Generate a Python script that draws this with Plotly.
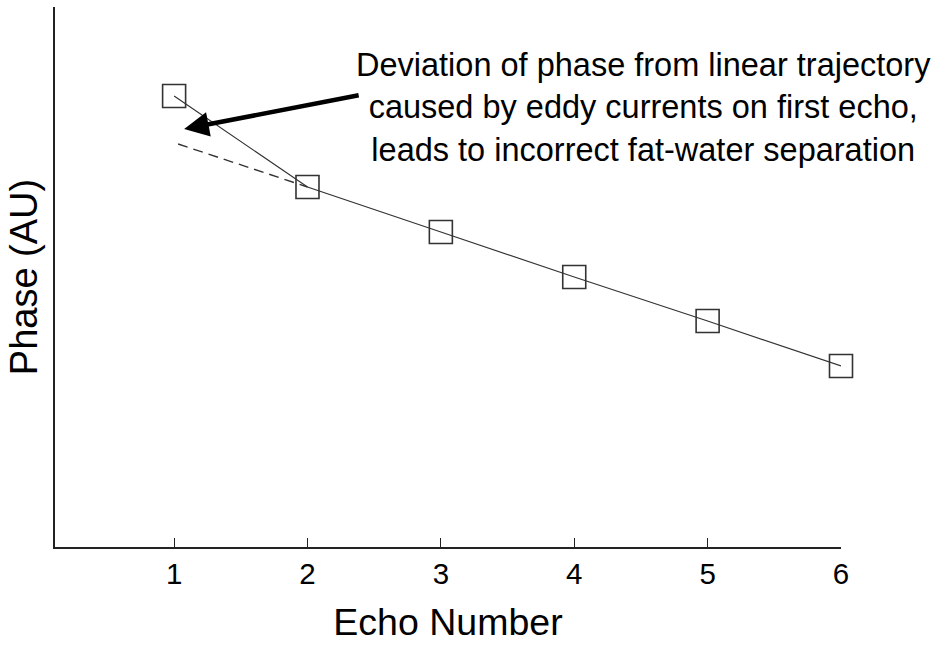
import plotly.graph_objects as go

echo_number = [1, 2, 3, 4, 5, 6]
phase = [4.51, 3.60, 3.15, 2.70, 2.26, 1.81]
linear_x = [1.03, 2]
linear_phase = [4.03, 3.60]
tick_vals = [1, 2, 3, 4, 5, 6]
tick_text = ["1", "2", "3", "4", "5", "6"]

FONT = "Liberation Sans, Arial, sans-serif"
INK = "#222222"

fig = go.Figure()
fig.add_trace(go.Scatter(
    x=linear_x, y=linear_phase, mode="lines",
    line=dict(color="#333333", width=1.4, dash="10px,6px"),
    hoverinfo="skip", showlegend=False, cliponaxis=False))
fig.add_trace(go.Scatter(
    x=echo_number, y=phase, mode="lines+markers",
    line=dict(color="#333333", width=1.2),
    marker=dict(symbol="square-open", size=23, color="#333333",
                line=dict(color="#333333", width=1.6)),
    showlegend=False, cliponaxis=False))

fig.add_annotation(
    x=1.075, y=4.18, ax=2.395, ay=4.52, xref="x", yref="y",
    axref="x", ayref="y", text="", showarrow=True,
    arrowhead=2, arrowsize=1.1, arrowwidth=4.5, arrowcolor="#000000")

L, R, T, B = 55, 101.3, 7, 98
W, H = 942, 645

fig.add_annotation(
    x=(643 - L) / (W - L - R), y=(H - B - 107) / (H - T - B),
    xref="paper", yref="paper", text=
    "Deviation of phase from linear trajectory<br>"
    "caused by eddy currents on first echo,<br>"
    "leads to incorrect fat-water separation",
    showarrow=False, align="center", xanchor="center", yanchor="middle",
    font=dict(family=FONT, size=32.5, color="#000000"))

fig.update_layout(
    width=W, height=H,
    margin=dict(l=L, r=R, t=T, b=B, pad=0),
    paper_bgcolor="white", plot_bgcolor="white",
    font=dict(family=FONT, color="#000000"),
    xaxis=dict(
        range=[0.107, 6], tickvals=tick_vals, ticktext=tick_text,
        ticks="inside", ticklen=9, tickwidth=1.3, tickcolor=INK,
        showline=True, linecolor=INK, linewidth=1.6, mirror=False,
        showgrid=False, zeroline=False,
        tickfont=dict(family=FONT, size=29.5, color="#000000"),
        title=dict(text="Echo Number", font=dict(family=FONT, size=37.5, color="#000000"),
                   standoff=20)),
    yaxis=dict(
        range=[0, 5.4], showticklabels=False, ticks="",
        showline=True, linecolor=INK, linewidth=1.6, mirror=False,
        showgrid=False, zeroline=False,
        title=dict(text="Phase (AU)", font=dict(family=FONT, size=38, color="#000000"),
                   standoff=4)),
)

fig.write_html("out.html")
